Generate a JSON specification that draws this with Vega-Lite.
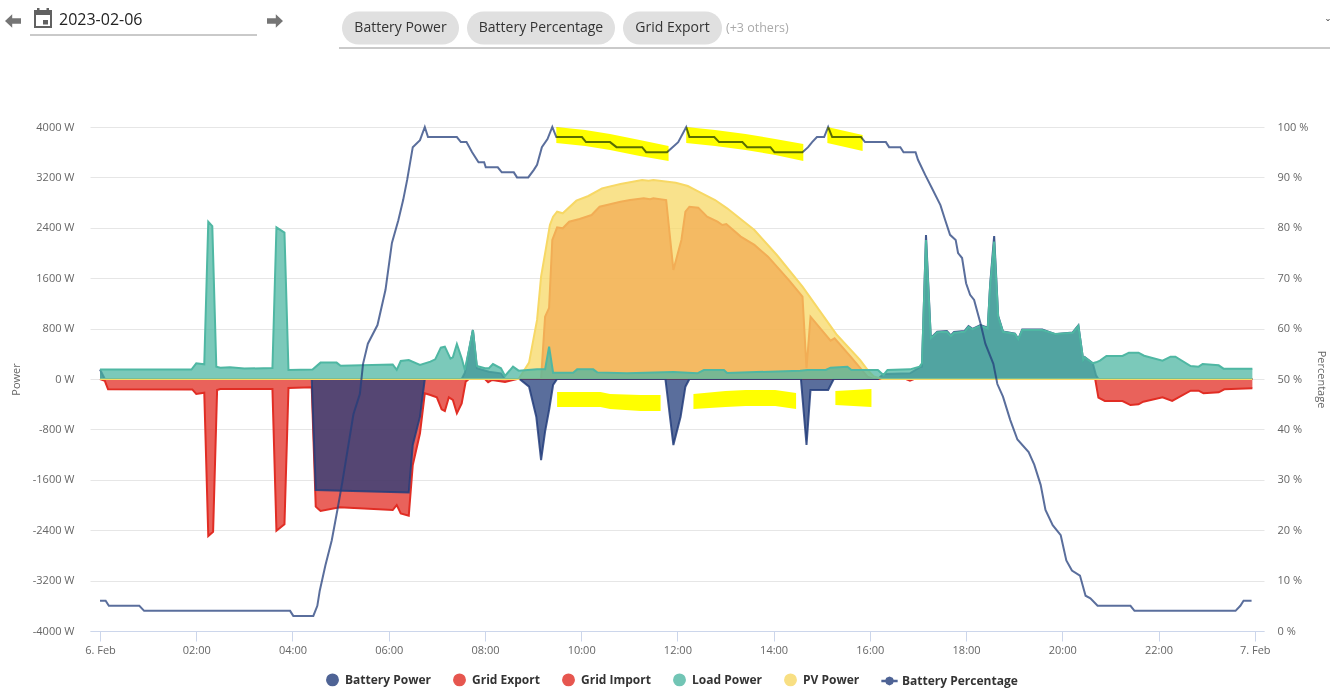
{
  "$schema": "https://vega.github.io/schema/vega-lite/v6.json",
  "background": "white",
  "padding": {"left": 5, "top": 0, "right": 0, "bottom": 0},
  "config": {"font": "Open Sans", "view": {"stroke": null}},
  "bounds": "flush",
  "spacing": 0,
  "datasets": {
    "chips": [
      {"label": "Battery Power", "from": 7, "mid": 8, "to": 9, "row": 3},
      {"label": "Battery Percentage", "from": 10, "mid": 11, "to": 12, "row": 3},
      {"label": "Grid Export", "from": 13, "mid": 14, "to": 15, "row": 3}
    ],
    "underlines": [
      {"from": 1, "to": 4, "row": 4},
      {"from": 6, "to": 18, "row": 5}
    ],
    "power": [
      {"series": "Grid Export", "time": "2023-02-06T00:00Z", "value": 0},
      {"series": "Grid Export", "time": "2023-02-06T09:10Z", "value": 0},
      {"series": "Grid Export", "time": "2023-02-06T09:15Z", "value": 989},
      {"series": "Grid Export", "time": "2023-02-06T09:20Z", "value": 1130},
      {"series": "Grid Export", "time": "2023-02-06T09:24Z", "value": 2207},
      {"series": "Grid Export", "time": "2023-02-06T09:30Z", "value": 2408},
      {"series": "Grid Export", "time": "2023-02-06T09:37Z", "value": 2392},
      {"series": "Grid Export", "time": "2023-02-06T09:45Z", "value": 2497},
      {"series": "Grid Export", "time": "2023-02-06T09:58Z", "value": 2540},
      {"series": "Grid Export", "time": "2023-02-06T10:13Z", "value": 2603},
      {"series": "Grid Export", "time": "2023-02-06T10:23Z", "value": 2735},
      {"series": "Grid Export", "time": "2023-02-06T10:32Z", "value": 2762},
      {"series": "Grid Export", "time": "2023-02-06T10:49Z", "value": 2815},
      {"series": "Grid Export", "time": "2023-02-06T11:01Z", "value": 2841},
      {"series": "Grid Export", "time": "2023-02-06T11:18Z", "value": 2868},
      {"series": "Grid Export", "time": "2023-02-06T11:26Z", "value": 2852},
      {"series": "Grid Export", "time": "2023-02-06T11:30Z", "value": 2868},
      {"series": "Grid Export", "time": "2023-02-06T11:46Z", "value": 2841},
      {"series": "Grid Export", "time": "2023-02-06T11:55Z", "value": 1730},
      {"series": "Grid Export", "time": "2023-02-06T12:05Z", "value": 2207},
      {"series": "Grid Export", "time": "2023-02-06T12:10Z", "value": 2656},
      {"series": "Grid Export", "time": "2023-02-06T12:15Z", "value": 2735},
      {"series": "Grid Export", "time": "2023-02-06T12:26Z", "value": 2720},
      {"series": "Grid Export", "time": "2023-02-06T12:37Z", "value": 2577},
      {"series": "Grid Export", "time": "2023-02-06T12:50Z", "value": 2497},
      {"series": "Grid Export", "time": "2023-02-06T12:56Z", "value": 2444},
      {"series": "Grid Export", "time": "2023-02-06T13:01Z", "value": 2460},
      {"series": "Grid Export", "time": "2023-02-06T13:19Z", "value": 2260},
      {"series": "Grid Export", "time": "2023-02-06T13:36Z", "value": 2128},
      {"series": "Grid Export", "time": "2023-02-06T13:53Z", "value": 1942},
      {"series": "Grid Export", "time": "2023-02-06T14:19Z", "value": 1571},
      {"series": "Grid Export", "time": "2023-02-06T14:36Z", "value": 1307},
      {"series": "Grid Export", "time": "2023-02-06T14:41Z", "value": 170},
      {"series": "Grid Export", "time": "2023-02-06T14:46Z", "value": 989},
      {"series": "Grid Export", "time": "2023-02-06T15:11Z", "value": 608},
      {"series": "Grid Export", "time": "2023-02-06T15:16Z", "value": 646},
      {"series": "Grid Export", "time": "2023-02-06T15:36Z", "value": 354},
      {"series": "Grid Export", "time": "2023-02-06T15:57Z", "value": 37},
      {"series": "Grid Export", "time": "2023-02-06T16:05Z", "value": 0},
      {"series": "Grid Export", "time": "2023-02-06T23:57Z", "value": 0},

      {"series": "Grid Import", "time": "2023-02-06T00:00Z", "value": 0},
      {"series": "Grid Import", "time": "2023-02-06T00:06Z", "value": -30},
      {"series": "Grid Import", "time": "2023-02-06T00:10Z", "value": -164},
      {"series": "Grid Import", "time": "2023-02-06T01:55Z", "value": -165},
      {"series": "Grid Import", "time": "2023-02-06T02:00Z", "value": -238},
      {"series": "Grid Import", "time": "2023-02-06T02:10Z", "value": -217},
      {"series": "Grid Import", "time": "2023-02-06T02:15Z", "value": -2493},
      {"series": "Grid Import", "time": "2023-02-06T02:21Z", "value": -2424},
      {"series": "Grid Import", "time": "2023-02-06T02:26Z", "value": -175},
      {"series": "Grid Import", "time": "2023-02-06T02:30Z", "value": -160},
      {"series": "Grid Import", "time": "2023-02-06T03:35Z", "value": -159},
      {"series": "Grid Import", "time": "2023-02-06T03:40Z", "value": -2408},
      {"series": "Grid Import", "time": "2023-02-06T03:50Z", "value": -2307},
      {"series": "Grid Import", "time": "2023-02-06T03:55Z", "value": -143},
      {"series": "Grid Import", "time": "2023-02-06T04:24Z", "value": -132},
      {"series": "Grid Import", "time": "2023-02-06T04:29Z", "value": -2026},
      {"series": "Grid Import", "time": "2023-02-06T04:35Z", "value": -2095},
      {"series": "Grid Import", "time": "2023-02-06T04:59Z", "value": -2037},
      {"series": "Grid Import", "time": "2023-02-06T06:05Z", "value": -2080},
      {"series": "Grid Import", "time": "2023-02-06T06:10Z", "value": -2000},
      {"series": "Grid Import", "time": "2023-02-06T06:15Z", "value": -2133},
      {"series": "Grid Import", "time": "2023-02-06T06:25Z", "value": -2170},
      {"series": "Grid Import", "time": "2023-02-06T06:30Z", "value": -1365},
      {"series": "Grid Import", "time": "2023-02-06T06:39Z", "value": -862},
      {"series": "Grid Import", "time": "2023-02-06T06:45Z", "value": -227},
      {"series": "Grid Import", "time": "2023-02-06T06:52Z", "value": -254},
      {"series": "Grid Import", "time": "2023-02-06T07:00Z", "value": -291},
      {"series": "Grid Import", "time": "2023-02-06T07:06Z", "value": -481},
      {"series": "Grid Import", "time": "2023-02-06T07:10Z", "value": -508},
      {"series": "Grid Import", "time": "2023-02-06T07:15Z", "value": -291},
      {"series": "Grid Import", "time": "2023-02-06T07:20Z", "value": -333},
      {"series": "Grid Import", "time": "2023-02-06T07:25Z", "value": -545},
      {"series": "Grid Import", "time": "2023-02-06T07:31Z", "value": -386},
      {"series": "Grid Import", "time": "2023-02-06T07:36Z", "value": -42},
      {"series": "Grid Import", "time": "2023-02-06T07:40Z", "value": 0},
      {"series": "Grid Import", "time": "2023-02-06T08:00Z", "value": 0},
      {"series": "Grid Import", "time": "2023-02-06T08:04Z", "value": -53},
      {"series": "Grid Import", "time": "2023-02-06T08:09Z", "value": -15},
      {"series": "Grid Import", "time": "2023-02-06T08:25Z", "value": -48},
      {"series": "Grid Import", "time": "2023-02-06T08:40Z", "value": 0},
      {"series": "Grid Import", "time": "2023-02-06T16:45Z", "value": 0},
      {"series": "Grid Import", "time": "2023-02-06T16:50Z", "value": -25},
      {"series": "Grid Import", "time": "2023-02-06T16:55Z", "value": 0},
      {"series": "Grid Import", "time": "2023-02-06T20:41Z", "value": 0},
      {"series": "Grid Import", "time": "2023-02-06T20:45Z", "value": -296},
      {"series": "Grid Import", "time": "2023-02-06T20:53Z", "value": -349},
      {"series": "Grid Import", "time": "2023-02-06T21:15Z", "value": -349},
      {"series": "Grid Import", "time": "2023-02-06T21:25Z", "value": -413},
      {"series": "Grid Import", "time": "2023-02-06T21:35Z", "value": -402},
      {"series": "Grid Import", "time": "2023-02-06T21:41Z", "value": -360},
      {"series": "Grid Import", "time": "2023-02-06T22:05Z", "value": -291},
      {"series": "Grid Import", "time": "2023-02-06T22:17Z", "value": -349},
      {"series": "Grid Import", "time": "2023-02-06T22:40Z", "value": -185},
      {"series": "Grid Import", "time": "2023-02-06T22:50Z", "value": -185},
      {"series": "Grid Import", "time": "2023-02-06T22:56Z", "value": -227},
      {"series": "Grid Import", "time": "2023-02-06T23:15Z", "value": -212},
      {"series": "Grid Import", "time": "2023-02-06T23:22Z", "value": -164},
      {"series": "Grid Import", "time": "2023-02-06T23:57Z", "value": -148},

      {"series": "Battery Power", "time": "2023-02-06T00:00Z", "value": 150},
      {"series": "Battery Power", "time": "2023-02-06T00:06Z", "value": 0},
      {"series": "Battery Power", "time": "2023-02-06T04:24Z", "value": 0},
      {"series": "Battery Power", "time": "2023-02-06T04:29Z", "value": -1762},
      {"series": "Battery Power", "time": "2023-02-06T06:25Z", "value": -1800},
      {"series": "Battery Power", "time": "2023-02-06T06:30Z", "value": -1048},
      {"series": "Battery Power", "time": "2023-02-06T06:39Z", "value": -598},
      {"series": "Battery Power", "time": "2023-02-06T06:45Z", "value": 0},
      {"series": "Battery Power", "time": "2023-02-06T07:31Z", "value": 0},
      {"series": "Battery Power", "time": "2023-02-06T07:35Z", "value": 100},
      {"series": "Battery Power", "time": "2023-02-06T07:45Z", "value": 778},
      {"series": "Battery Power", "time": "2023-02-06T07:50Z", "value": 170},
      {"series": "Battery Power", "time": "2023-02-06T08:05Z", "value": 116},
      {"series": "Battery Power", "time": "2023-02-06T08:20Z", "value": 90},
      {"series": "Battery Power", "time": "2023-02-06T08:25Z", "value": 0},
      {"series": "Battery Power", "time": "2023-02-06T08:43Z", "value": 0},
      {"series": "Battery Power", "time": "2023-02-06T08:55Z", "value": -122},
      {"series": "Battery Power", "time": "2023-02-06T09:04Z", "value": -598},
      {"series": "Battery Power", "time": "2023-02-06T09:10Z", "value": -1286},
      {"series": "Battery Power", "time": "2023-02-06T09:15Z", "value": -836},
      {"series": "Battery Power", "time": "2023-02-06T09:20Z", "value": -492},
      {"series": "Battery Power", "time": "2023-02-06T09:25Z", "value": -95},
      {"series": "Battery Power", "time": "2023-02-06T09:30Z", "value": 0},
      {"series": "Battery Power", "time": "2023-02-06T11:45Z", "value": 0},
      {"series": "Battery Power", "time": "2023-02-06T11:55Z", "value": -1048},
      {"series": "Battery Power", "time": "2023-02-06T12:04Z", "value": -598},
      {"series": "Battery Power", "time": "2023-02-06T12:10Z", "value": -122},
      {"series": "Battery Power", "time": "2023-02-06T12:15Z", "value": 0},
      {"series": "Battery Power", "time": "2023-02-06T14:34Z", "value": 0},
      {"series": "Battery Power", "time": "2023-02-06T14:41Z", "value": -1048},
      {"series": "Battery Power", "time": "2023-02-06T14:46Z", "value": -175},
      {"series": "Battery Power", "time": "2023-02-06T15:08Z", "value": -175},
      {"series": "Battery Power", "time": "2023-02-06T15:15Z", "value": 0},
      {"series": "Battery Power", "time": "2023-02-06T16:10Z", "value": 0},
      {"series": "Battery Power", "time": "2023-02-06T16:17Z", "value": 80},
      {"series": "Battery Power", "time": "2023-02-06T16:50Z", "value": 90},
      {"series": "Battery Power", "time": "2023-02-06T17:02Z", "value": 185},
      {"series": "Battery Power", "time": "2023-02-06T17:05Z", "value": 196},
      {"series": "Battery Power", "time": "2023-02-06T17:10Z", "value": 2286},
      {"series": "Battery Power", "time": "2023-02-06T17:16Z", "value": 650},
      {"series": "Battery Power", "time": "2023-02-06T17:24Z", "value": 750},
      {"series": "Battery Power", "time": "2023-02-06T17:36Z", "value": 760},
      {"series": "Battery Power", "time": "2023-02-06T17:41Z", "value": 690},
      {"series": "Battery Power", "time": "2023-02-06T17:45Z", "value": 745},
      {"series": "Battery Power", "time": "2023-02-06T17:58Z", "value": 760},
      {"series": "Battery Power", "time": "2023-02-06T18:03Z", "value": 840},
      {"series": "Battery Power", "time": "2023-02-06T18:08Z", "value": 795},
      {"series": "Battery Power", "time": "2023-02-06T18:18Z", "value": 855},
      {"series": "Battery Power", "time": "2023-02-06T18:27Z", "value": 815},
      {"series": "Battery Power", "time": "2023-02-06T18:30Z", "value": 1500},
      {"series": "Battery Power", "time": "2023-02-06T18:35Z", "value": 2270},
      {"series": "Battery Power", "time": "2023-02-06T18:40Z", "value": 1000},
      {"series": "Battery Power", "time": "2023-02-06T18:46Z", "value": 755},
      {"series": "Battery Power", "time": "2023-02-06T19:01Z", "value": 720},
      {"series": "Battery Power", "time": "2023-02-06T19:05Z", "value": 630},
      {"series": "Battery Power", "time": "2023-02-06T19:10Z", "value": 785},
      {"series": "Battery Power", "time": "2023-02-06T19:35Z", "value": 785},
      {"series": "Battery Power", "time": "2023-02-06T19:51Z", "value": 710},
      {"series": "Battery Power", "time": "2023-02-06T20:13Z", "value": 740},
      {"series": "Battery Power", "time": "2023-02-06T20:20Z", "value": 850},
      {"series": "Battery Power", "time": "2023-02-06T20:26Z", "value": 300},
      {"series": "Battery Power", "time": "2023-02-06T20:28Z", "value": 345},
      {"series": "Battery Power", "time": "2023-02-06T20:38Z", "value": 250},
      {"series": "Battery Power", "time": "2023-02-06T20:42Z", "value": 60},
      {"series": "Battery Power", "time": "2023-02-06T20:45Z", "value": 0},
      {"series": "Battery Power", "time": "2023-02-06T23:57Z", "value": 0},

      {"series": "PV Power", "time": "2023-02-06T00:00Z", "value": 0},
      {"series": "PV Power", "time": "2023-02-06T08:42Z", "value": 0},
      {"series": "PV Power", "time": "2023-02-06T08:55Z", "value": 260},
      {"series": "PV Power", "time": "2023-02-06T09:05Z", "value": 938},
      {"series": "PV Power", "time": "2023-02-06T09:10Z", "value": 1625},
      {"series": "PV Power", "time": "2023-02-06T09:15Z", "value": 1995},
      {"series": "PV Power", "time": "2023-02-06T09:21Z", "value": 2444},
      {"series": "PV Power", "time": "2023-02-06T09:25Z", "value": 2577},
      {"series": "PV Power", "time": "2023-02-06T09:30Z", "value": 2656},
      {"series": "PV Power", "time": "2023-02-06T09:37Z", "value": 2630},
      {"series": "PV Power", "time": "2023-02-06T09:54Z", "value": 2831},
      {"series": "PV Power", "time": "2023-02-06T10:09Z", "value": 2905},
      {"series": "PV Power", "time": "2023-02-06T10:26Z", "value": 3026},
      {"series": "PV Power", "time": "2023-02-06T10:49Z", "value": 3095},
      {"series": "PV Power", "time": "2023-02-06T11:16Z", "value": 3158},
      {"series": "PV Power", "time": "2023-02-06T11:24Z", "value": 3147},
      {"series": "PV Power", "time": "2023-02-06T11:30Z", "value": 3158},
      {"series": "PV Power", "time": "2023-02-06T11:58Z", "value": 3116},
      {"series": "PV Power", "time": "2023-02-06T12:13Z", "value": 3063},
      {"series": "PV Power", "time": "2023-02-06T12:24Z", "value": 2989},
      {"series": "PV Power", "time": "2023-02-06T12:47Z", "value": 2841},
      {"series": "PV Power", "time": "2023-02-06T13:02Z", "value": 2709},
      {"series": "PV Power", "time": "2023-02-06T13:36Z", "value": 2365},
      {"series": "PV Power", "time": "2023-02-06T14:04Z", "value": 1968},
      {"series": "PV Power", "time": "2023-02-06T14:36Z", "value": 1466},
      {"series": "PV Power", "time": "2023-02-06T15:19Z", "value": 698},
      {"series": "PV Power", "time": "2023-02-06T15:48Z", "value": 300},
      {"series": "PV Power", "time": "2023-02-06T15:58Z", "value": 130},
      {"series": "PV Power", "time": "2023-02-06T16:05Z", "value": 40},
      {"series": "PV Power", "time": "2023-02-06T16:15Z", "value": 0},
      {"series": "PV Power", "time": "2023-02-06T23:57Z", "value": 0},

      {"series": "Load Power", "time": "2023-02-06T00:00Z", "value": 150},
      {"series": "Load Power", "time": "2023-02-06T01:54Z", "value": 150},
      {"series": "Load Power", "time": "2023-02-06T02:00Z", "value": 249},
      {"series": "Load Power", "time": "2023-02-06T02:10Z", "value": 233},
      {"series": "Load Power", "time": "2023-02-06T02:15Z", "value": 2497},
      {"series": "Load Power", "time": "2023-02-06T02:20Z", "value": 2428},
      {"series": "Load Power", "time": "2023-02-06T02:25Z", "value": 196},
      {"series": "Load Power", "time": "2023-02-06T02:30Z", "value": 180},
      {"series": "Load Power", "time": "2023-02-06T02:42Z", "value": 185},
      {"series": "Load Power", "time": "2023-02-06T03:00Z", "value": 165},
      {"series": "Load Power", "time": "2023-02-06T03:35Z", "value": 175},
      {"series": "Load Power", "time": "2023-02-06T03:40Z", "value": 2408},
      {"series": "Load Power", "time": "2023-02-06T03:50Z", "value": 2324},
      {"series": "Load Power", "time": "2023-02-06T03:55Z", "value": 143},
      {"series": "Load Power", "time": "2023-02-06T04:25Z", "value": 150},
      {"series": "Load Power", "time": "2023-02-06T04:35Z", "value": 260},
      {"series": "Load Power", "time": "2023-02-06T04:55Z", "value": 260},
      {"series": "Load Power", "time": "2023-02-06T05:00Z", "value": 210},
      {"series": "Load Power", "time": "2023-02-06T06:05Z", "value": 230},
      {"series": "Load Power", "time": "2023-02-06T06:10Z", "value": 145},
      {"series": "Load Power", "time": "2023-02-06T06:15Z", "value": 285},
      {"series": "Load Power", "time": "2023-02-06T06:25Z", "value": 300},
      {"series": "Load Power", "time": "2023-02-06T06:39Z", "value": 222},
      {"series": "Load Power", "time": "2023-02-06T06:52Z", "value": 275},
      {"series": "Load Power", "time": "2023-02-06T06:58Z", "value": 312},
      {"series": "Load Power", "time": "2023-02-06T07:05Z", "value": 497},
      {"series": "Load Power", "time": "2023-02-06T07:10Z", "value": 513},
      {"series": "Load Power", "time": "2023-02-06T07:17Z", "value": 323},
      {"series": "Load Power", "time": "2023-02-06T07:20Z", "value": 344},
      {"series": "Load Power", "time": "2023-02-06T07:25Z", "value": 555},
      {"series": "Load Power", "time": "2023-02-06T07:31Z", "value": 328},
      {"series": "Load Power", "time": "2023-02-06T07:35Z", "value": 143},
      {"series": "Load Power", "time": "2023-02-06T07:45Z", "value": 778},
      {"series": "Load Power", "time": "2023-02-06T07:50Z", "value": 206},
      {"series": "Load Power", "time": "2023-02-06T08:00Z", "value": 170},
      {"series": "Load Power", "time": "2023-02-06T08:05Z", "value": 170},
      {"series": "Load Power", "time": "2023-02-06T08:10Z", "value": 238},
      {"series": "Load Power", "time": "2023-02-06T08:20Z", "value": 170},
      {"series": "Load Power", "time": "2023-02-06T08:25Z", "value": 48},
      {"series": "Load Power", "time": "2023-02-06T08:35Z", "value": 196},
      {"series": "Load Power", "time": "2023-02-06T08:42Z", "value": 132},
      {"series": "Load Power", "time": "2023-02-06T09:05Z", "value": 153},
      {"series": "Load Power", "time": "2023-02-06T09:15Z", "value": 153},
      {"series": "Load Power", "time": "2023-02-06T09:20Z", "value": 513},
      {"series": "Load Power", "time": "2023-02-06T09:25Z", "value": 100},
      {"series": "Load Power", "time": "2023-02-06T09:50Z", "value": 100},
      {"series": "Load Power", "time": "2023-02-06T09:55Z", "value": 153},
      {"series": "Load Power", "time": "2023-02-06T10:15Z", "value": 153},
      {"series": "Load Power", "time": "2023-02-06T10:20Z", "value": 105},
      {"series": "Load Power", "time": "2023-02-06T10:57Z", "value": 90},
      {"series": "Load Power", "time": "2023-02-06T11:55Z", "value": 111},
      {"series": "Load Power", "time": "2023-02-06T12:25Z", "value": 90},
      {"series": "Load Power", "time": "2023-02-06T12:33Z", "value": 143},
      {"series": "Load Power", "time": "2023-02-06T12:58Z", "value": 143},
      {"series": "Load Power", "time": "2023-02-06T13:02Z", "value": 95},
      {"series": "Load Power", "time": "2023-02-06T14:33Z", "value": 132},
      {"series": "Load Power", "time": "2023-02-06T14:42Z", "value": 143},
      {"series": "Load Power", "time": "2023-02-06T15:05Z", "value": 143},
      {"series": "Load Power", "time": "2023-02-06T15:11Z", "value": 180},
      {"series": "Load Power", "time": "2023-02-06T15:32Z", "value": 196},
      {"series": "Load Power", "time": "2023-02-06T15:37Z", "value": 143},
      {"series": "Load Power", "time": "2023-02-06T16:10Z", "value": 143},
      {"series": "Load Power", "time": "2023-02-06T16:17Z", "value": 64},
      {"series": "Load Power", "time": "2023-02-06T16:22Z", "value": 143},
      {"series": "Load Power", "time": "2023-02-06T16:50Z", "value": 153},
      {"series": "Load Power", "time": "2023-02-06T17:02Z", "value": 196},
      {"series": "Load Power", "time": "2023-02-06T17:05Z", "value": 250},
      {"series": "Load Power", "time": "2023-02-06T17:10Z", "value": 2206},
      {"series": "Load Power", "time": "2023-02-06T17:16Z", "value": 645},
      {"series": "Load Power", "time": "2023-02-06T17:24Z", "value": 741},
      {"series": "Load Power", "time": "2023-02-06T17:36Z", "value": 750},
      {"series": "Load Power", "time": "2023-02-06T17:41Z", "value": 683},
      {"series": "Load Power", "time": "2023-02-06T17:45Z", "value": 735},
      {"series": "Load Power", "time": "2023-02-06T17:58Z", "value": 750},
      {"series": "Load Power", "time": "2023-02-06T18:03Z", "value": 830},
      {"series": "Load Power", "time": "2023-02-06T18:08Z", "value": 790},
      {"series": "Load Power", "time": "2023-02-06T18:18Z", "value": 846},
      {"series": "Load Power", "time": "2023-02-06T18:27Z", "value": 805},
      {"series": "Load Power", "time": "2023-02-06T18:30Z", "value": 1480},
      {"series": "Load Power", "time": "2023-02-06T18:35Z", "value": 2180},
      {"series": "Load Power", "time": "2023-02-06T18:40Z", "value": 990},
      {"series": "Load Power", "time": "2023-02-06T18:46Z", "value": 750},
      {"series": "Load Power", "time": "2023-02-06T19:01Z", "value": 715},
      {"series": "Load Power", "time": "2023-02-06T19:05Z", "value": 630},
      {"series": "Load Power", "time": "2023-02-06T19:10Z", "value": 778},
      {"series": "Load Power", "time": "2023-02-06T19:35Z", "value": 778},
      {"series": "Load Power", "time": "2023-02-06T19:51Z", "value": 715},
      {"series": "Load Power", "time": "2023-02-06T20:13Z", "value": 735},
      {"series": "Load Power", "time": "2023-02-06T20:20Z", "value": 846},
      {"series": "Load Power", "time": "2023-02-06T20:26Z", "value": 302},
      {"series": "Load Power", "time": "2023-02-06T20:28Z", "value": 344},
      {"series": "Load Power", "time": "2023-02-06T20:38Z", "value": 250},
      {"series": "Load Power", "time": "2023-02-06T20:42Z", "value": 265},
      {"series": "Load Power", "time": "2023-02-06T20:47Z", "value": 291},
      {"series": "Load Power", "time": "2023-02-06T20:55Z", "value": 365},
      {"series": "Load Power", "time": "2023-02-06T21:15Z", "value": 365},
      {"series": "Load Power", "time": "2023-02-06T21:23Z", "value": 418},
      {"series": "Load Power", "time": "2023-02-06T21:35Z", "value": 418},
      {"series": "Load Power", "time": "2023-02-06T21:42Z", "value": 370},
      {"series": "Load Power", "time": "2023-02-06T22:05Z", "value": 291},
      {"series": "Load Power", "time": "2023-02-06T22:15Z", "value": 355},
      {"series": "Load Power", "time": "2023-02-06T22:21Z", "value": 355},
      {"series": "Load Power", "time": "2023-02-06T22:40Z", "value": 206},
      {"series": "Load Power", "time": "2023-02-06T22:50Z", "value": 196},
      {"series": "Load Power", "time": "2023-02-06T22:55Z", "value": 238},
      {"series": "Load Power", "time": "2023-02-06T23:15Z", "value": 217},
      {"series": "Load Power", "time": "2023-02-06T23:21Z", "value": 164},
      {"series": "Load Power", "time": "2023-02-06T23:57Z", "value": 164}
    ],
    "charge": [
      {"series": "Battery Percentage", "time": "2023-02-06T00:00Z", "percent": 6},
      {"series": "Battery Percentage", "time": "2023-02-06T00:07Z", "percent": 6},
      {"series": "Battery Percentage", "time": "2023-02-06T00:11Z", "percent": 5},
      {"series": "Battery Percentage", "time": "2023-02-06T00:49Z", "percent": 5},
      {"series": "Battery Percentage", "time": "2023-02-06T00:55Z", "percent": 4},
      {"series": "Battery Percentage", "time": "2023-02-06T03:57Z", "percent": 4},
      {"series": "Battery Percentage", "time": "2023-02-06T04:01Z", "percent": 3},
      {"series": "Battery Percentage", "time": "2023-02-06T04:26Z", "percent": 3},
      {"series": "Battery Percentage", "time": "2023-02-06T04:31Z", "percent": 5},
      {"series": "Battery Percentage", "time": "2023-02-06T04:34Z", "percent": 8},
      {"series": "Battery Percentage", "time": "2023-02-06T04:41Z", "percent": 13},
      {"series": "Battery Percentage", "time": "2023-02-06T04:49Z", "percent": 18},
      {"series": "Battery Percentage", "time": "2023-02-06T04:56Z", "percent": 24},
      {"series": "Battery Percentage", "time": "2023-02-06T05:02Z", "percent": 29.4},
      {"series": "Battery Percentage", "time": "2023-02-06T05:16Z", "percent": 43},
      {"series": "Battery Percentage", "time": "2023-02-06T05:24Z", "percent": 47},
      {"series": "Battery Percentage", "time": "2023-02-06T05:28Z", "percent": 53},
      {"series": "Battery Percentage", "time": "2023-02-06T05:34Z", "percent": 57},
      {"series": "Battery Percentage", "time": "2023-02-06T05:46Z", "percent": 60.7},
      {"series": "Battery Percentage", "time": "2023-02-06T05:56Z", "percent": 67.7},
      {"series": "Battery Percentage", "time": "2023-02-06T06:04Z", "percent": 77},
      {"series": "Battery Percentage", "time": "2023-02-06T06:12Z", "percent": 81.5},
      {"series": "Battery Percentage", "time": "2023-02-06T06:18Z", "percent": 85.5},
      {"series": "Battery Percentage", "time": "2023-02-06T06:23Z", "percent": 89.5},
      {"series": "Battery Percentage", "time": "2023-02-06T06:30Z", "percent": 96},
      {"series": "Battery Percentage", "time": "2023-02-06T06:39Z", "percent": 97.4},
      {"series": "Battery Percentage", "time": "2023-02-06T06:45Z", "percent": 100},
      {"series": "Battery Percentage", "time": "2023-02-06T06:49Z", "percent": 98},
      {"series": "Battery Percentage", "time": "2023-02-06T07:25Z", "percent": 98},
      {"series": "Battery Percentage", "time": "2023-02-06T07:30Z", "percent": 97},
      {"series": "Battery Percentage", "time": "2023-02-06T07:37Z", "percent": 97},
      {"series": "Battery Percentage", "time": "2023-02-06T07:44Z", "percent": 95},
      {"series": "Battery Percentage", "time": "2023-02-06T07:52Z", "percent": 93},
      {"series": "Battery Percentage", "time": "2023-02-06T07:59Z", "percent": 93},
      {"series": "Battery Percentage", "time": "2023-02-06T08:01Z", "percent": 92},
      {"series": "Battery Percentage", "time": "2023-02-06T08:16Z", "percent": 92},
      {"series": "Battery Percentage", "time": "2023-02-06T08:21Z", "percent": 91},
      {"series": "Battery Percentage", "time": "2023-02-06T08:36Z", "percent": 91},
      {"series": "Battery Percentage", "time": "2023-02-06T08:40Z", "percent": 90},
      {"series": "Battery Percentage", "time": "2023-02-06T08:54Z", "percent": 90},
      {"series": "Battery Percentage", "time": "2023-02-06T09:01Z", "percent": 91.5},
      {"series": "Battery Percentage", "time": "2023-02-06T09:05Z", "percent": 92.5},
      {"series": "Battery Percentage", "time": "2023-02-06T09:11Z", "percent": 96},
      {"series": "Battery Percentage", "time": "2023-02-06T09:18Z", "percent": 97.6},
      {"series": "Battery Percentage", "time": "2023-02-06T09:24Z", "percent": 100},
      {"series": "Battery Percentage", "time": "2023-02-06T09:29Z", "percent": 98},
      {"series": "Battery Percentage", "time": "2023-02-06T10:01Z", "percent": 98},
      {"series": "Battery Percentage", "time": "2023-02-06T10:06Z", "percent": 97},
      {"series": "Battery Percentage", "time": "2023-02-06T10:36Z", "percent": 97},
      {"series": "Battery Percentage", "time": "2023-02-06T10:44Z", "percent": 96},
      {"series": "Battery Percentage", "time": "2023-02-06T11:16Z", "percent": 96},
      {"series": "Battery Percentage", "time": "2023-02-06T11:21Z", "percent": 95},
      {"series": "Battery Percentage", "time": "2023-02-06T11:47Z", "percent": 95},
      {"series": "Battery Percentage", "time": "2023-02-06T11:54Z", "percent": 96},
      {"series": "Battery Percentage", "time": "2023-02-06T12:01Z", "percent": 97},
      {"series": "Battery Percentage", "time": "2023-02-06T12:11Z", "percent": 100},
      {"series": "Battery Percentage", "time": "2023-02-06T12:15Z", "percent": 98},
      {"series": "Battery Percentage", "time": "2023-02-06T12:46Z", "percent": 98},
      {"series": "Battery Percentage", "time": "2023-02-06T12:52Z", "percent": 97},
      {"series": "Battery Percentage", "time": "2023-02-06T13:21Z", "percent": 97},
      {"series": "Battery Percentage", "time": "2023-02-06T13:27Z", "percent": 96},
      {"series": "Battery Percentage", "time": "2023-02-06T13:56Z", "percent": 96},
      {"series": "Battery Percentage", "time": "2023-02-06T14:01Z", "percent": 95},
      {"series": "Battery Percentage", "time": "2023-02-06T14:36Z", "percent": 95},
      {"series": "Battery Percentage", "time": "2023-02-06T14:43Z", "percent": 96},
      {"series": "Battery Percentage", "time": "2023-02-06T14:48Z", "percent": 97},
      {"series": "Battery Percentage", "time": "2023-02-06T14:54Z", "percent": 98},
      {"series": "Battery Percentage", "time": "2023-02-06T15:03Z", "percent": 98},
      {"series": "Battery Percentage", "time": "2023-02-06T15:08Z", "percent": 100},
      {"series": "Battery Percentage", "time": "2023-02-06T15:13Z", "percent": 98},
      {"series": "Battery Percentage", "time": "2023-02-06T15:49Z", "percent": 98},
      {"series": "Battery Percentage", "time": "2023-02-06T15:54Z", "percent": 97},
      {"series": "Battery Percentage", "time": "2023-02-06T16:20Z", "percent": 97},
      {"series": "Battery Percentage", "time": "2023-02-06T16:24Z", "percent": 96},
      {"series": "Battery Percentage", "time": "2023-02-06T16:38Z", "percent": 96},
      {"series": "Battery Percentage", "time": "2023-02-06T16:42Z", "percent": 95},
      {"series": "Battery Percentage", "time": "2023-02-06T16:57Z", "percent": 95},
      {"series": "Battery Percentage", "time": "2023-02-06T17:00Z", "percent": 93.5},
      {"series": "Battery Percentage", "time": "2023-02-06T17:09Z", "percent": 90.5},
      {"series": "Battery Percentage", "time": "2023-02-06T17:17Z", "percent": 88},
      {"series": "Battery Percentage", "time": "2023-02-06T17:28Z", "percent": 84.5},
      {"series": "Battery Percentage", "time": "2023-02-06T17:34Z", "percent": 81.5},
      {"series": "Battery Percentage", "time": "2023-02-06T17:40Z", "percent": 78.6},
      {"series": "Battery Percentage", "time": "2023-02-06T17:47Z", "percent": 77.6},
      {"series": "Battery Percentage", "time": "2023-02-06T17:50Z", "percent": 75},
      {"series": "Battery Percentage", "time": "2023-02-06T17:55Z", "percent": 74},
      {"series": "Battery Percentage", "time": "2023-02-06T18:00Z", "percent": 69},
      {"series": "Battery Percentage", "time": "2023-02-06T18:05Z", "percent": 66.7},
      {"series": "Battery Percentage", "time": "2023-02-06T18:10Z", "percent": 65.7},
      {"series": "Battery Percentage", "time": "2023-02-06T18:18Z", "percent": 61},
      {"series": "Battery Percentage", "time": "2023-02-06T18:24Z", "percent": 57},
      {"series": "Battery Percentage", "time": "2023-02-06T18:34Z", "percent": 53},
      {"series": "Battery Percentage", "time": "2023-02-06T18:39Z", "percent": 49},
      {"series": "Battery Percentage", "time": "2023-02-06T18:46Z", "percent": 46.5},
      {"series": "Battery Percentage", "time": "2023-02-06T18:55Z", "percent": 41.9},
      {"series": "Battery Percentage", "time": "2023-02-06T19:04Z", "percent": 38},
      {"series": "Battery Percentage", "time": "2023-02-06T19:18Z", "percent": 35.5},
      {"series": "Battery Percentage", "time": "2023-02-06T19:25Z", "percent": 33},
      {"series": "Battery Percentage", "time": "2023-02-06T19:33Z", "percent": 29},
      {"series": "Battery Percentage", "time": "2023-02-06T19:39Z", "percent": 24},
      {"series": "Battery Percentage", "time": "2023-02-06T19:48Z", "percent": 21},
      {"series": "Battery Percentage", "time": "2023-02-06T19:58Z", "percent": 19},
      {"series": "Battery Percentage", "time": "2023-02-06T20:05Z", "percent": 14},
      {"series": "Battery Percentage", "time": "2023-02-06T20:12Z", "percent": 12},
      {"series": "Battery Percentage", "time": "2023-02-06T20:22Z", "percent": 11},
      {"series": "Battery Percentage", "time": "2023-02-06T20:29Z", "percent": 7},
      {"series": "Battery Percentage", "time": "2023-02-06T20:35Z", "percent": 6.5},
      {"series": "Battery Percentage", "time": "2023-02-06T20:44Z", "percent": 5},
      {"series": "Battery Percentage", "time": "2023-02-06T21:25Z", "percent": 5},
      {"series": "Battery Percentage", "time": "2023-02-06T21:30Z", "percent": 4},
      {"series": "Battery Percentage", "time": "2023-02-06T23:36Z", "percent": 4},
      {"series": "Battery Percentage", "time": "2023-02-06T23:42Z", "percent": 5},
      {"series": "Battery Percentage", "time": "2023-02-06T23:46Z", "percent": 6},
      {"series": "Battery Percentage", "time": "2023-02-06T23:56Z", "percent": 6}
    ],
    "highlight": [
      {"band": "a", "time": "2023-02-06T09:29Z", "high": 4000, "low": 3746},
      {"band": "a", "time": "2023-02-06T10:05Z", "high": 3952, "low": 3698},
      {"band": "a", "time": "2023-02-06T10:36Z", "high": 3889, "low": 3635},
      {"band": "a", "time": "2023-02-06T11:13Z", "high": 3794, "low": 3540},
      {"band": "a", "time": "2023-02-06T11:49Z", "high": 3698, "low": 3460},
      {"band": "b", "time": "2023-02-06T12:11Z", "high": 4000, "low": 3746},
      {"band": "b", "time": "2023-02-06T12:47Z", "high": 3952, "low": 3698},
      {"band": "b", "time": "2023-02-06T13:25Z", "high": 3889, "low": 3635},
      {"band": "b", "time": "2023-02-06T14:02Z", "high": 3810, "low": 3556},
      {"band": "b", "time": "2023-02-06T14:37Z", "high": 3730, "low": 3460},
      {"band": "c", "time": "2023-02-06T15:07Z", "high": 4000, "low": 3746},
      {"band": "c", "time": "2023-02-06T15:29Z", "high": 3937, "low": 3682},
      {"band": "c", "time": "2023-02-06T15:51Z", "high": 3873, "low": 3619},
      {"band": "d", "time": "2023-02-06T09:30Z", "high": -206, "low": -444},
      {"band": "d", "time": "2023-02-06T10:24Z", "high": -206, "low": -444},
      {"band": "d", "time": "2023-02-06T10:36Z", "high": -238, "low": -476},
      {"band": "d", "time": "2023-02-06T11:14Z", "high": -254, "low": -508},
      {"band": "d", "time": "2023-02-06T11:39Z", "high": -254, "low": -508},
      {"band": "e", "time": "2023-02-06T12:20Z", "high": -238, "low": -476},
      {"band": "e", "time": "2023-02-06T13:00Z", "high": -190, "low": -444},
      {"band": "e", "time": "2023-02-06T13:25Z", "high": -175, "low": -429},
      {"band": "e", "time": "2023-02-06T14:02Z", "high": -175, "low": -429},
      {"band": "e", "time": "2023-02-06T14:28Z", "high": -222, "low": -476},
      {"band": "f", "time": "2023-02-06T15:17Z", "high": -190, "low": -413},
      {"band": "f", "time": "2023-02-06T16:02Z", "high": -159, "low": -444}
    ]
  },
  "vconcat": [
    {
      "width": 1174,
      "height": 127,
      "encoding": {
        "x": {
          "field": "slot",
          "type": "quantitative",
          "axis": null,
          "scale": {
            "domain": [0, 1, 2, 3, 4, 5, 6, 7, 8, 9, 10, 11, 12, 13, 14, 15, 16, 17, 18],
            "range": [-77, -60, -47, -31, 167, 185, 249, 268.5, 310.5, 352.5, 393.5, 451, 508.5, 549.5, 582.5, 615.5, 636, 1238, 1240]
          }
        },
        "y": {
          "field": "row",
          "type": "quantitative",
          "axis": null,
          "scale": {"domain": [0, 1, 2, 3, 4, 5], "range": [18, 20, 21, 28, 35, 48]}
        }
      },
      "layer": [
        {
          "data": {"name": "chips"},
          "mark": {"type": "rule", "color": "#e0e0e0", "strokeWidth": 33, "strokeCap": "round"},
          "encoding": {
            "x": {"field": "from", "type": "quantitative"},
            "x2": {"field": "to"}
          }
        },
        {
          "data": {"name": "chips"},
          "mark": {"type": "text", "fontSize": 14, "color": "#333333", "align": "center", "baseline": "middle"},
          "encoding": {
            "x": {"field": "mid", "type": "quantitative"},
            "text": {"field": "label"}
          }
        },
        {
          "data": {"name": "underlines"},
          "mark": {"type": "rule", "color": "#949494", "strokeWidth": 1},
          "encoding": {
            "x": {"field": "from", "type": "quantitative"},
            "x2": {"field": "to"}
          }
        },
        {
          "data": {"values": [{"label": "2023-02-06", "slot": 3, "row": 1}]},
          "mark": {"type": "text", "fontSize": 16, "color": "#222222", "align": "left", "baseline": "middle"},
          "encoding": {"text": {"field": "label"}}
        },
        {
          "data": {"values": [{"label": "(+3 others)", "slot": 16, "row": 3}]},
          "mark": {"type": "text", "fontSize": 12.5, "color": "#aaaaaa", "align": "left", "baseline": "middle"},
          "encoding": {"text": {"field": "label"}}
        },
        {
          "data": {"values": [{"label": "ˇ", "slot": 17, "row": 1}]},
          "mark": {"type": "text", "fontSize": 12, "color": "#555555", "align": "center", "baseline": "middle", "dy": 5},
          "encoding": {"text": {"field": "label"}}
        },
        {
          "data": {"values": [{"slot": 0, "row": 2}]},
          "mark": {"type": "point", "filled": true, "opacity": 1, "color": "#757575", "size": 256, "shape": "M-1,0L-0.1,-0.85V-0.35H1V0.35H-0.1V0.85Z"}
        },
        {
          "data": {"values": [{"slot": 5, "row": 2}]},
          "mark": {"type": "point", "filled": true, "opacity": 1, "color": "#757575", "size": 256, "shape": "M1,0L0.1,0.85V0.35H-1V-0.35H0.1V-0.85Z"}
        },
        {
          "data": {"values": [{"slot": 2, "row": 0}]},
          "mark": {"type": "point", "filled": true, "opacity": 1, "color": "#616161", "size": 400, "shape": "M-0.9,-0.8H-0.6V-1H-0.35V-0.8H0.35V-1H0.6V-0.8H0.9V1H-0.9ZM-0.7,-0.3V0.8H0.7V-0.3ZM0,0.2H0.5V0.65H0Z"}
        }
      ]
    },
    {
      "width": 1174,
      "height": 504,
      "encoding": {
        "x": {
          "field": "time",
          "type": "temporal",
          "title": null,
          "scale": {
            "type": "utc",
            "domain": ["2023-02-05T23:47:30Z", "2023-02-07T00:11:30Z"]
          },
          "axis": {
            "values": [
              {"year": 2023, "month": 2, "date": 6, "hours": 0, "utc": true},
              {"year": 2023, "month": 2, "date": 6, "hours": 2, "utc": true},
              {"year": 2023, "month": 2, "date": 6, "hours": 4, "utc": true},
              {"year": 2023, "month": 2, "date": 6, "hours": 6, "utc": true},
              {"year": 2023, "month": 2, "date": 6, "hours": 8, "utc": true},
              {"year": 2023, "month": 2, "date": 6, "hours": 10, "utc": true},
              {"year": 2023, "month": 2, "date": 6, "hours": 12, "utc": true},
              {"year": 2023, "month": 2, "date": 6, "hours": 14, "utc": true},
              {"year": 2023, "month": 2, "date": 6, "hours": 16, "utc": true},
              {"year": 2023, "month": 2, "date": 6, "hours": 18, "utc": true},
              {"year": 2023, "month": 2, "date": 6, "hours": 20, "utc": true},
              {"year": 2023, "month": 2, "date": 6, "hours": 22, "utc": true},
              {"year": 2023, "month": 2, "date": 7, "hours": 0, "utc": true}
            ],
            "grid": false,
            "domainColor": "#ccd6eb",
            "tickColor": "#ccd6eb",
            "tickSize": 10,
            "labelPadding": 3,
            "labelFontSize": 11,
            "labelColor": "#666666",
            "labelExpr": "utcFormat(datum.value, '%H') == '00' ? utcFormat(datum.value, '%-d. %b') : utcFormat(datum.value, '%H:%M')"
          }
        }
      },
      "resolve": {"scale": {"y": "independent"}},
      "layer": [
        {
          "data": {"name": "power"},
          "encoding": {
            "y": {
              "field": "value",
              "type": "quantitative",
              "stack": null,
              "title": "Power",
              "scale": {"domain": [-4000, 4000], "nice": false},
              "axis": {
                "values": [-4000, -3200, -2400, -1600, -800, 0, 800, 1600, 2400, 3200, 4000],
                "domain": false,
                "ticks": false,
                "gridColor": "#e6e6e6",
                "labelPadding": 16,
                "labelFontSize": 11,
                "labelColor": "#666666",
                "labelExpr": "datum.value + ' W'",
                "titleFontSize": 11,
                "titleFontWeight": "normal",
                "titleColor": "#666666",
                "titlePadding": 11
              }
            }
          },
          "layer": [
            {
              "transform": [{"filter": "datum.series === 'Grid Export' || datum.series === 'Grid Import'"}],
              "mark": {"type": "area", "fillOpacity": 0.75},
              "encoding": {
                "color": {
                  "field": "series",
                  "type": "nominal",
                  "scale": {
                    "domain": ["Battery Power", "Grid Export", "Grid Import", "Load Power", "PV Power", "Battery Percentage"],
                    "range": ["#233d7b", "#e12d24", "#e12d24", "#4fb7a3", "#f7d865", "#233d7b"]
                  },
                  "legend": {
                    "title": null,
                    "orient": "none",
                    "legendX": 236,
                    "legendY": 673,
                    "direction": "horizontal",
                    "columns": 6,
                    "columnPadding": 19,
                    "labelFontSize": 12,
                    "labelFontWeight": "bold",
                    "labelColor": "#333333",
                    "labelOffset": 6,
                    "symbolSize": 130,
                    "symbolType": "circle",
                    "symbolOpacity": 0.8,
                    "encode": {
                      "symbols": {
                        "update": {
                          "shape": {"signal": "datum.value === 'Battery Percentage' ? 'M-1.3,-0.09H-0.63L-0.46,-0.46L0,-0.65L0.46,-0.46L0.63,-0.09H1.3V0.09H0.63L0.46,0.46L0,0.65L-0.46,0.46L-0.63,0.09H-1.3Z' : 'circle'"}
                        }
                      }
                    }
                  }
                }
              }
            },
            {
              "transform": [{"filter": "datum.series === 'Grid Export' || datum.series === 'Grid Import'"}],
              "mark": {"type": "line", "strokeWidth": 2},
              "encoding": {"color": {"field": "series", "type": "nominal", "legend": null}}
            },
            {
              "transform": [{"filter": "datum.series === 'Battery Power'"}],
              "mark": {"type": "area", "fillOpacity": 0.75},
              "encoding": {"color": {"field": "series", "type": "nominal", "legend": null}}
            },
            {
              "transform": [{"filter": "datum.series === 'Battery Power'"}],
              "mark": {"type": "line", "strokeWidth": 2, "strokeOpacity": 0.85},
              "encoding": {"color": {"field": "series", "type": "nominal", "legend": null}}
            },
            {
              "transform": [{"filter": "datum.series === 'PV Power'"}],
              "mark": {"type": "area", "fillOpacity": 0.75},
              "encoding": {"color": {"field": "series", "type": "nominal", "legend": null}}
            },
            {
              "transform": [{"filter": "datum.series === 'PV Power'"}],
              "mark": {"type": "line", "strokeWidth": 2},
              "encoding": {"color": {"field": "series", "type": "nominal", "legend": null}}
            },
            {
              "transform": [{"filter": "datum.series === 'Load Power'"}],
              "mark": {"type": "area", "fillOpacity": 0.75},
              "encoding": {"color": {"field": "series", "type": "nominal", "legend": null}}
            },
            {
              "transform": [{"filter": "datum.series === 'Load Power'"}],
              "mark": {"type": "line", "strokeWidth": 2},
              "encoding": {"color": {"field": "series", "type": "nominal", "legend": null}}
            }
          ]
        },
        {
          "data": {"name": "charge"},
          "mark": {"type": "line", "strokeWidth": 2, "strokeOpacity": 0.75},
          "encoding": {
            "y": {
              "field": "percent",
              "type": "quantitative",
              "title": "Percentage",
              "scale": {"domain": [0, 100], "nice": false},
              "axis": {
                "orient": "right",
                "grid": false,
                "values": [0, 10, 20, 30, 40, 50, 60, 70, 80, 90, 100],
                "domain": false,
                "ticks": false,
                "labelPadding": 13,
                "labelFontSize": 11,
                "labelColor": "#666666",
                "labelExpr": "datum.value + ' %'",
                "titleFontSize": 11,
                "titleFontWeight": "normal",
                "titleColor": "#666666",
                "titleAngle": 90,
                "titlePadding": 8
              }
            },
            "color": {"field": "series", "type": "nominal", "legend": null}
          }
        },
        {
          "data": {"name": "highlight"},
          "mark": {"type": "area", "color": "#ffff00", "blend": "multiply", "opacity": 1},
          "encoding": {
            "y": {
              "field": "high",
              "type": "quantitative",
              "axis": null,
              "scale": {"domain": [-4000, 4000], "nice": false}
            },
            "y2": {"field": "low"},
            "detail": {"field": "band"}
          }
        }
      ]
    }
  ]
}
